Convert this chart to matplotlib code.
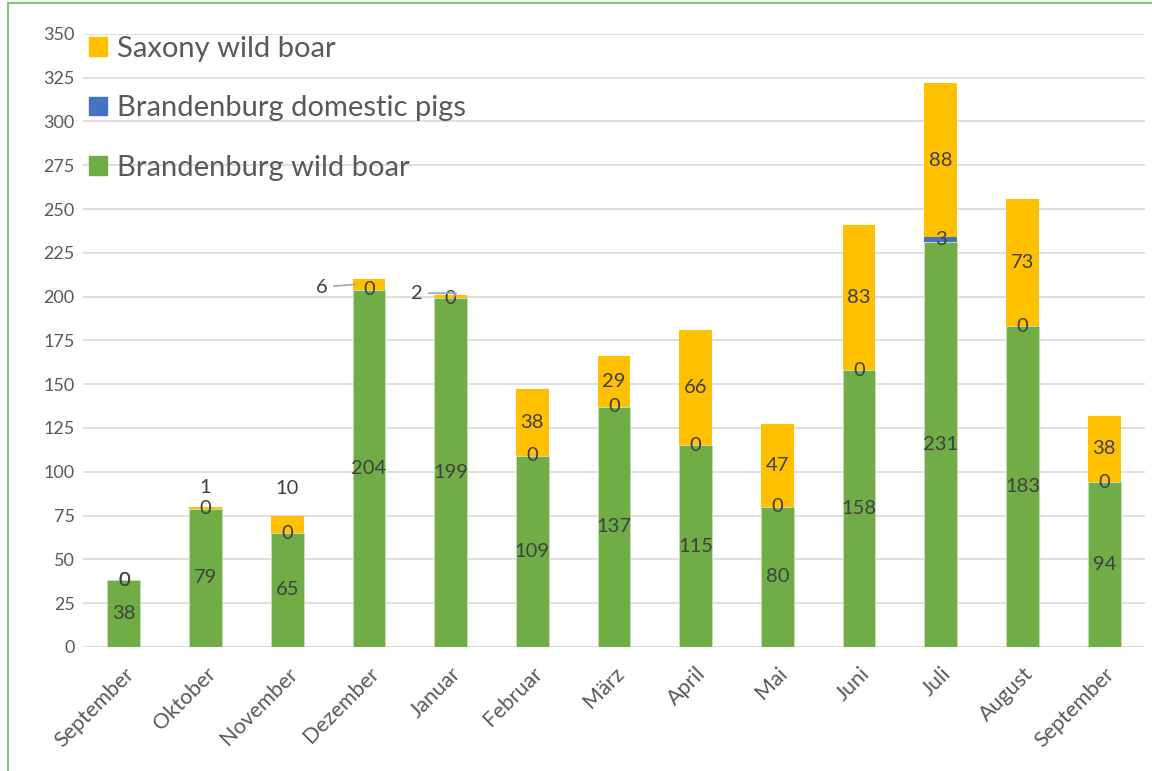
import matplotlib.pyplot as plt
import numpy as np
from matplotlib.patches import Patch, Rectangle

# Monthly counts (stacked)
months = ['September', 'Oktober', 'November', 'Dezember', 'Januar', 'Februar', 'März',
          'April', 'Mai', 'Juni', 'Juli', 'August', 'September']
bb_wild = [38, 79, 65, 204, 199, 109, 137, 115, 80, 158, 231, 183, 94]
bb_domestic = [0, 0, 0, 0, 0, 0, 0, 0, 0, 0, 3, 0, 0]
sax_wild = [0, 1, 10, 6, 2, 38, 29, 66, 47, 83, 88, 73, 38]
yticks = list(range(0, 351, 25))

green = '#70AD47'
blue = '#4472C4'
yellow = '#FFC000'
txt = '#404040'
tick_col = '#595959'

plt.rcParams['font.family'] = ['Lato', 'DejaVu Sans']

fig = plt.figure(figsize=(11.52, 7.71), dpi=100)
ax = fig.add_axes([0.072, 0.161, 0.922, 0.795])

x = np.arange(len(months))
w = 0.4
bb_wild = np.array(bb_wild)
bb_domestic = np.array(bb_domestic)
sax_wild = np.array(sax_wild)

ax.bar(x, bb_wild, w, color=green, edgecolor='#c9e0b8', linewidth=0.5, zorder=2)
ax.bar(x, bb_domestic, w, bottom=bb_wild, color=blue, linewidth=0, zorder=2)
ax.bar(x, sax_wild, w, bottom=bb_wild + bb_domestic, color=yellow, linewidth=0, zorder=2)

lab_fs = 14.5
for i in x:
    ax.text(i, bb_wild[i] / 2, str(bb_wild[i]), ha='center', va='center',
            fontsize=lab_fs, color=txt, zorder=3)
    ax.text(i, bb_wild[i] + bb_domestic[i] / 2, str(bb_domestic[i]), ha='center', va='center',
            fontsize=lab_fs, color=txt, zorder=3)
    top = bb_wild[i] + bb_domestic[i]
    s = sax_wild[i]
    if i == 0:
        ax.text(i, top, str(s), ha='center', va='center', fontsize=lab_fs, color=txt, zorder=3)
    elif s >= 20:
        ax.text(i, top + s / 2, str(s), ha='center', va='center',
                fontsize=lab_fs, color=txt, zorder=3)

# small labels placed outside the bars
ax.annotate(str(sax_wild[1]), (1, bb_wild[1] + sax_wild[1]), xytext=(0, 8),
            textcoords='offset points', ha='center', va='bottom', fontsize=lab_fs, color=txt)
ax.annotate(str(sax_wild[2]), (2, bb_wild[2] + sax_wild[2]), xytext=(0, 13),
            textcoords='offset points', ha='center', va='bottom', fontsize=lab_fs, color=txt)
ax.annotate(str(sax_wild[3]), (3 - 0.16, bb_wild[3] + sax_wild[3] - 3), xytext=(-20, -2),
            textcoords='offset points', ha='right', va='center', fontsize=lab_fs, color=txt,
            arrowprops=dict(arrowstyle='-', color='#a6a6a6', lw=1.2, shrinkA=2, shrinkB=0))
ax.annotate(str(sax_wild[4]), (4 + 0.02, bb_wild[4] + sax_wild[4] - 3), xytext=(-21, 5),
            textcoords='offset points', ha='right', va='center', fontsize=lab_fs, color=txt,
            arrowprops=dict(arrowstyle='-', color='#a6a6a6', lw=1.2, shrinkA=2, shrinkB=0,
                            connectionstyle='angle,angleA=0,angleB=60,rad=0'))

ax.set_xlim(-0.5, len(months) - 0.5)
ax.set_ylim(0, 350)
ax.set_yticks(yticks)
ax.set_yticklabels([str(v) for v in yticks], fontsize=13, color=tick_col)
ax.set_xticks(x)
ax.set_xticklabels(months, rotation=45, ha='right', rotation_mode='anchor',
                   fontsize=15.5, color=tick_col)
ax.tick_params(length=0, pad=6)
ax.tick_params(axis='x', pad=12)
ax.grid(axis='y', color='#d9d9d9', linewidth=1.2, zorder=0)
ax.set_axisbelow(True)
for sp in ax.spines.values():
    sp.set_visible(False)

handles = [Patch(color=yellow), Patch(color=blue), Patch(color=green)]
labels = ['Saxony wild boar', 'Brandenburg domestic pigs', 'Brandenburg wild boar']
ax.legend(handles, labels, loc='upper left', bbox_to_anchor=(0.006, 0.997), frameon=False,
          fontsize=21, labelcolor=tick_col, handlelength=0.6, handleheight=0.6,
          handletextpad=0.35, labelspacing=1.15, borderaxespad=0, borderpad=0)

fig.patches.append(Rectangle((8 / 1152, -0.01), 1.0, 1 - 3 / 771 + 0.01, transform=fig.transFigure,
                             fill=False, edgecolor='#7cc576', linewidth=1.5))

fig.savefig('out.png', dpi=100)
